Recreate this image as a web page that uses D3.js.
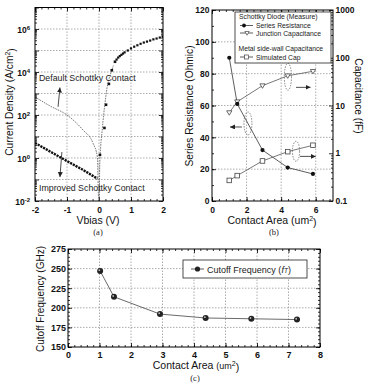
<!DOCTYPE html>
<html>
<head>
<meta charset="utf-8">
<script src="https://cdn.jsdelivr.net/npm/d3@7"></script>
<style>
  body { margin: 0; background: #fff; }
  svg { font-family: "Liberation Sans", Arial, sans-serif; }
  .grid { stroke: #8a8a8a; stroke-width: 0.7; stroke-dasharray: 1.5,1.5; }
  .tick line { stroke: #000; stroke-width: 0.8; }
  .tick text { font-weight: bold; fill: #111; }
</style>
</head>
<body>
<script>
// ---- panel (a): J-V curves
const vImproved = [-2, -1.5, -1, -0.5, -0.05]
const jImproved = [5, 1.9, 0.72, 0.28, 0.11]
const vDefault = [-2, -1.53, -1, -0.5, -0.19, -0.05, -0.01, 0.01, 0.02, 0.05, 0.1, 0.15, 0.2, 0.25, 0.3, 0.4, 0.45]
const jDefault = [690, 263, 100, 20, 5, 1.1, 0.01, 0.01, 0.3, 3, 20, 120, 500, 1800, 4000, 12000, 20000]
const vForward = [0.03, 0.17, 0.22, 0.31, 0.4, 0.5, 0.55, 0.6, 0.65, 0.7, 0.75, 0.8, 0.9, 1.0, 1.1, 1.2, 1.3, 1.4, 1.5, 1.6, 1.7, 1.8, 1.9, 2.0]
const jForward = [1.4, 25, 300, 2800, 12000, 30000, 38000, 47000, 55000, 63000, 72000, 82000, 100000, 125000, 150000, 175000, 205000, 235000, 260000, 290000, 330000, 360000, 400000, 440000]
const vTicksA = [-2, -1, 0, 1, 2]
const jTickExpA = [-2, 0, 2, 4, 6]

// ---- panel (b): resistance / capacitance vs area
const areaB = [1.0, 1.46, 2.92, 4.38, 5.84]
const seriesRes = [90, 61, 32, 21, 17]
const junctionCap = [7.1, 12, 26, 42, 52]
const simCap = [0.27, 0.34, 0.69, 1.08, 1.47]
const areaTicksB = [0, 2, 4, 6]
const resTicks = [0, 20, 40, 60, 80, 100, 120]
const capTicks = [0.1, 1, 10, 100, 1000]

// ---- panel (c): cutoff frequency
const areaC = [1.02, 1.46, 2.92, 4.37, 5.82, 7.27]
const fT = [247, 214, 192, 187, 186, 185]
const areaTicksC = [0, 1, 2, 3, 4, 5, 6, 7, 8]
const fTicks = [150, 175, 200, 225, 250, 275]

const svg = d3.select("body").append("svg").attr("width", 370).attr("height", 383)

const defs = svg.append("defs")
defs.append("marker").attr("id", "arr")
  .attr("viewBox", "0 0 6 6").attr("refX", 6).attr("refY", 3)
  .attr("markerWidth", 5).attr("markerHeight", 5).attr("markerUnits", "userSpaceOnUse")
  .attr("orient", "auto")
  .append("path").attr("d", "M0,0 L6,3 L0,6 Z").attr("fill", "#222")

const range = (a, b, s) => d3.range(a, b + s / 2, s).map(v => +v.toFixed(4))
const logMinor = (e0, e1) => {
  let out = []
  for (let e = e0; e < e1; e++) for (let m = 2; m <= 9; m++) out.push(m * Math.pow(10, e))
  return out
}

// draws inward major/minor ticks on one side, labels optional
const side = (g, axisFn, scale, major, minor, pos, fmt, pad, fs) => {
  const a = g.append("g").attr("transform", pos)
    .call(axisFn(scale).tickValues(major).tickSize(-4).tickPadding(pad).tickFormat(fmt || ""))
  a.attr("font-size", fs || 8).attr("font-family", null)
  a.select(".domain").remove()
  const b = g.append("g").attr("transform", pos)
    .call(axisFn(scale).tickValues(minor).tickSize(-2).tickFormat(""))
  b.select(".domain").remove()
  return a
}

const grid = (g, x, y, gx, gy) => {
  const [xa, xb] = x.range(), [ya, yb] = y.range()
  g.append("g").selectAll("line").data(gx).join("line").attr("class", "grid")
    .attr("x1", d => x(d)).attr("x2", d => x(d)).attr("y1", ya).attr("y2", yb)
  g.append("g").selectAll("line").data(gy).join("line").attr("class", "grid")
    .attr("y1", d => y(d)).attr("y2", d => y(d)).attr("x1", xa).attr("x2", xb)
}

const box = (g, x, y) => {
  const [xa, xb] = x.range(), [ya, yb] = y.range()
  g.append("rect").attr("x", xa).attr("y", yb).attr("width", xb - xa).attr("height", ya - yb)
    .attr("fill", "none").attr("stroke", "#000").attr("stroke-width", 1)
}

const clip = (id, x, y) => {
  const [xa, xb] = x.range(), [ya, yb] = y.range()
  defs.append("clipPath").attr("id", id).append("rect")
    .attr("x", xa).attr("y", yb).attr("width", xb - xa).attr("height", ya - yb)
}

const label = (txt, x, y, rot, fs) => svg.append("text")
  .attr("transform", `translate(${x},${y}) rotate(${rot})`)
  .attr("text-anchor", "middle").attr("font-size", fs).attr("fill", "#111").text(txt)

const caption = (txt, x, y) => svg.append("text").attr("x", x).attr("y", y)
  .attr("text-anchor", "middle").attr("font-family", "Liberation Serif, serif")
  .attr("font-size", 8.5).attr("fill", "#222").text(txt)

// ================= panel (a)
const xA = d3.scaleLinear().domain([-2, 2]).range([35, 163])
const yA = d3.scaleLog().domain([1e-2, 1e7]).range([201, 7.5])
const gA = svg.append("g")
clip("clipA", xA, yA)
grid(gA, xA, yA, [-1, 0, 1], [1e-1, 1, 10, 1e2, 1e3, 1e4, 1e5, 1e6])

const decA = d3.range(-2, 8).map(e => Math.pow(10, e))
side(gA, d3.axisBottom, xA, vTicksA, range(-2, 2, 0.2), `translate(0,${yA.range()[0]})`, d => d, 6, 8.5)
side(gA, d3.axisTop, xA, vTicksA, range(-2, 2, 0.2), `translate(0,${yA.range()[1]})`)
const yAxA = side(gA, d3.axisLeft, yA, decA, logMinor(-2, 7), `translate(${xA.range()[0]},0)`, d => "", 5, 8.5)
side(gA, d3.axisRight, yA, decA, logMinor(-2, 7), `translate(${xA.range()[1]},0)`)
yAxA.selectAll(".tick text").each(function (d) {
  const e = Math.round(Math.log10(d))
  if (!jTickExpA.includes(e)) return
  const t = d3.select(this).attr("dy", "0.4em")
  t.append("tspan").text("10")
  t.append("tspan").attr("dy", "-0.55em").attr("font-size", 6).text(e)
})

const pA = gA.append("g").attr("clip-path", "url(#clipA)")
const lineA = d3.line().x(d => xA(d[0])).y(d => yA(d[1]))
pA.append("path").datum(d3.zip(vDefault, jDefault)).attr("d", lineA.curve(d3.curveMonotoneX))
  .attr("fill", "none").attr("stroke", "#555").attr("stroke-width", 0.8).attr("stroke-dasharray", "1.6,1")
pA.append("path").datum(d3.zip(vImproved, jImproved)).attr("d", d3.line().x(d => xA(d[0])).y(d => yA(d[1])))
  .attr("fill", "none").attr("stroke", "#111").attr("stroke-width", 2.4).attr("stroke-dasharray", "2.2,0.9")
pA.selectAll("rect.fw").data(d3.zip(vForward, jForward)).join("rect").attr("class", "fw")
  .attr("x", d => xA(d[0]) - (d[0] < 0.55 ? 1.3 : 1.1)).attr("y", d => yA(d[1]) - (d[0] < 0.55 ? 1.3 : 1.1))
  .attr("width", d => d[0] < 0.55 ? 2.6 : 2.2).attr("height", d => d[0] < 0.55 ? 2.6 : 2.2).attr("fill", "#111")
box(gA, xA, yA)

gA.append("text").attr("x", xA(-1.875)).attr("y", 81).attr("font-size", 8.8).attr("fill", "#222")
  .text("Default Schottky Contact")
gA.append("text").attr("x", xA(-1.875)).attr("y", 191).attr("font-size", 8.8).attr("fill", "#222")
  .text("Improved Schottky Contact")
gA.append("line").attr("x1", xA(-1.28)).attr("y1", yA(240)).attr("x2", xA(-1.22)).attr("y2", yA(1900))
  .attr("stroke", "#222").attr("stroke-width", 0.8).attr("marker-end", "url(#arr)")
gA.append("line").attr("x1", xA(-1.16)).attr("y1", yA(1.9)).attr("x2", xA(-1.22)).attr("y2", yA(0.13))
  .attr("stroke", "#222").attr("stroke-width", 0.8).attr("marker-end", "url(#arr)")

const tA = label("Current Density (A/cm", 13, 102, -90, 10.2)
tA.append("tspan").attr("dy", "-0.5em").attr("font-size", 7).text("2")
tA.append("tspan").attr("dy", "0.5em").text(")")
label("Vbias (V)", 98, 224, 0, 10.5)
caption("(a)", 98, 235)

// ================= panel (b)
const xB = d3.scaleLinear().domain([0, 7]).range([212, 333])
const yB = d3.scaleLinear().domain([0, 120]).range([201, 10])
const yBR = d3.scaleLog().domain([0.1, 1000]).range([201, 10])
const gB = svg.append("g")
clip("clipB", xB, yB)
grid(gB, xB, yB, [2, 4, 6], [20, 40, 60, 80, 100])
side(gB, d3.axisBottom, xB, areaTicksB, range(0, 7, 0.4), `translate(0,201)`, d => d, 5.5, 8.5)
side(gB, d3.axisTop, xB, areaTicksB, range(0, 7, 0.4), `translate(0,10)`)
side(gB, d3.axisLeft, yB, resTicks, range(0, 120, 10), `translate(212,0)`, d => d, 2.5, 8.5)
side(gB, d3.axisRight, yBR, capTicks, logMinor(-1, 3), `translate(333,0)`, d => d, 2.5, 8.5)

const pB = gB.append("g").attr("clip-path", "url(#clipB)")
const lineR = d3.line().x(d => xB(d[0])).y(d => yB(d[1]))
const lineC = d3.line().x(d => xB(d[0])).y(d => yBR(d[1]))
const resPts = d3.zip(areaB, seriesRes), jcPts = d3.zip(areaB, junctionCap), scPts = d3.zip(areaB, simCap)
pB.append("path").datum(resPts).attr("d", lineR).attr("fill", "none").attr("stroke", "#333").attr("stroke-width", 0.8)
pB.append("path").datum(jcPts).attr("d", lineC).attr("fill", "none").attr("stroke", "#555").attr("stroke-width", 0.8)
pB.append("path").datum(scPts).attr("d", lineC).attr("fill", "none").attr("stroke", "#555").attr("stroke-width", 0.8)

const tri = (cx, cy, r) => `M${cx - r},${cy - r * 0.7} L${cx + r},${cy - r * 0.7} L${cx},${cy + r} Z`
pB.selectAll("path.jc").data(jcPts).join("path").attr("class", "jc")
  .attr("d", d => tri(xB(d[0]), yBR(d[1]), 2.6)).attr("fill", "#fff").attr("stroke", "#444").attr("stroke-width", 0.8)
pB.selectAll("rect.sc").data(scPts).join("rect").attr("class", "sc")
  .attr("x", d => xB(d[0]) - 2.3).attr("y", d => yBR(d[1]) - 2.3).attr("width", 4.6).attr("height", 4.6)
  .attr("fill", "#fff").attr("stroke", "#444").attr("stroke-width", 0.8)
pB.selectAll("circle.sr").data(resPts).join("circle").attr("class", "sr")
  .attr("cx", d => xB(d[0])).attr("cy", d => yB(d[1])).attr("r", 2.1).attr("fill", "#111")

// dashed ellipses + arrows
const ell = (cx, cy, rx, ry) => gB.append("ellipse").attr("cx", cx).attr("cy", cy).attr("rx", rx).attr("ry", ry)
  .attr("fill", "none").attr("stroke", "#555").attr("stroke-width", 0.7).attr("stroke-dasharray", "1.5,1.2")
ell(xB(4.39), yBR(40), 3.6, 13.5)
ell(xB(2.08), yB(48.7), 4, 11.5)
ell(xB(4.86), yBR(1.1), 3.6, 10)
const arrow = (x1, y1, x2, y2) => gB.append("line").attr("x1", x1).attr("y1", y1).attr("x2", x2).attr("y2", y2)
  .attr("stroke", "#222").attr("stroke-width", 0.8).attr("marker-end", "url(#arr)")
arrow(xB(4.86), yBR(24), xB(5.7), yBR(24))
arrow(xB(1.73), yB(46.5), xB(1.04), yB(46.5))
arrow(xB(5.09), yBR(0.86), xB(6.0), yBR(0.86))

// legend (b)
const lg = gB.append("g")
lg.append("rect").attr("x", 235).attr("y", 12).attr("width", 96).attr("height", 51)
  .attr("fill", "#fff").attr("stroke", "#222").attr("stroke-width", 0.8)
const lt = (txt, x, y) => lg.append("text").attr("x", x).attr("y", y).attr("font-size", 6.8).attr("fill", "#222").text(txt)
lt("Schottky Diode (Measure)", 239, 18.5)
lt("Series Resistance", 256, 27.5)
lt("Junction Capacitance", 256, 35.5)
lt("Metal side-wall Capacitance", 238.5, 50.5)
lt("Simulated Cap", 256, 59.5)
const sym = y => lg.append("line").attr("x1", 240).attr("x2", 253).attr("y1", y).attr("y2", y)
  .attr("stroke", "#333").attr("stroke-width", 0.8)
sym(25.5); sym(33); sym(57)
lg.append("circle").attr("cx", 244).attr("cy", 25.5).attr("r", 1.9).attr("fill", "#111")
lg.append("path").attr("d", tri(247, 33, 2.2)).attr("fill", "#fff").attr("stroke", "#444").attr("stroke-width", 0.7)
lg.append("rect").attr("x", 244.5).attr("y", 55).attr("width", 4).attr("height", 4)
  .attr("fill", "#fff").attr("stroke", "#444").attr("stroke-width", 0.7)
box(gB, xB, yB)

label("Series Resistance (Ohmic)", 193, 106, -90, 10.2)
label("Capacitance (fF)", 355, 96, 90, 10.2)
const tB = label("Contact Area (um", 272, 224, 0, 10.5)
tB.append("tspan").attr("dy", "-0.5em").attr("font-size", 7).text("2")
tB.append("tspan").attr("dy", "0.5em").text(")")
caption("(b)", 274, 235)

// ================= panel (c)
const xC = d3.scaleLinear().domain([0, 8]).range([68, 320])
const yC = d3.scaleLinear().domain([150, 275]).range([347, 249])
const gC = svg.append("g")
grid(gC, xC, yC, [1, 2, 3, 4, 5, 6, 7], [175, 200, 225, 250])
side(gC, d3.axisBottom, xC, areaTicksC, range(0, 8, 0.2), `translate(0,347)`, d => d, 4.5, 9)
side(gC, d3.axisTop, xC, areaTicksC, range(0, 8, 0.2), `translate(0,249)`)
side(gC, d3.axisLeft, yC, fTicks, range(150, 275, 5), `translate(68,0)`, d => d, 2, 9)
side(gC, d3.axisRight, yC, fTicks, range(150, 275, 5), `translate(320,0)`)

const fPts = d3.zip(areaC, fT)
gC.append("path").datum(fPts).attr("d", d3.line().x(d => xC(d[0])).y(d => yC(d[1])))
  .attr("fill", "none").attr("stroke", "#444").attr("stroke-width", 0.8)
gC.selectAll("circle.f").data(fPts).join("circle").attr("class", "f")
  .attr("cx", d => xC(d[0])).attr("cy", d => yC(d[1])).attr("r", 3).attr("fill", "#222")
gC.selectAll("circle.h").data(fPts).join("circle").attr("class", "h")
  .attr("cx", d => xC(d[0]) - 0.8).attr("cy", d => yC(d[1]) - 0.8).attr("r", 0.9).attr("fill", "#bbb")

const lc = gC.append("g")
lc.append("rect").attr("x", 183).attr("y", 260).attr("width", 124).attr("height", 18)
  .attr("fill", "#fff").attr("stroke", "#222").attr("stroke-width", 0.8)
lc.append("line").attr("x1", 191).attr("x2", 204).attr("y1", 269).attr("y2", 269).attr("stroke", "#333").attr("stroke-width", 0.8)
lc.append("circle").attr("cx", 197.5).attr("cy", 269).attr("r", 2.6).attr("fill", "#222")
const ltc = lc.append("text").attr("x", 207).attr("y", 272.5).attr("font-size", 9).attr("fill", "#222")
ltc.append("tspan").text("Cutoff Frequency (")
ltc.append("tspan").attr("font-style", "italic").text("f")
ltc.append("tspan").attr("font-size", 6.5).attr("font-style", "italic").text("T")
ltc.append("tspan").text(")")
box(gC, xC, yC)

label("Cutoff Frequency (GHz)", 44, 299, -90, 10)
const tC = label("Contact Area ", 196, 369, 0, 10.5)
tC.append("tspan").attr("font-size", 9).text("(um")
tC.append("tspan").attr("dy", "-0.5em").attr("font-size", 7).text("2")
tC.append("tspan").attr("dy", "0.5em").text(")")
caption("(c)", 195, 381)
</script>
</body>
</html>
